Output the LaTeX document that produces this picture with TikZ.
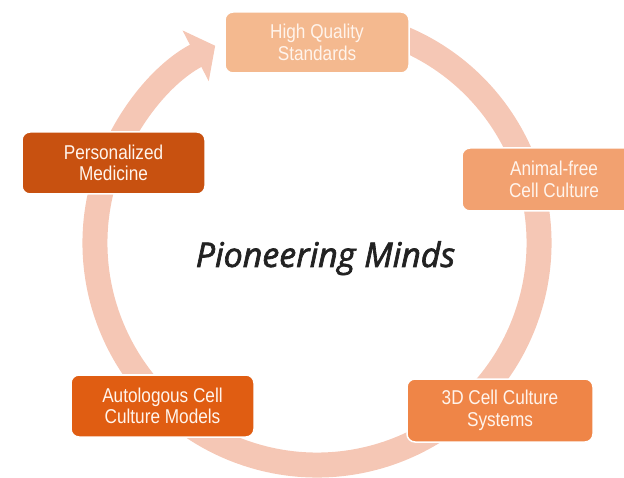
\documentclass[tikz,border=0pt]{standalone}
\usepackage{fontspec}
\usepackage{tikz}
\usetikzlibrary{arrows.meta}
\usepackage{xcolor}
\newfontfamily\boxfont{Liberation Sans}[FakeStretch=0.86]
\newfontfamily\mindfont{Open Sans}[FakeBold=2]
\definecolor{anel}{RGB}{245,199,181}
\definecolor{corA}{RGB}{244,185,143}
\definecolor{corB}{RGB}{242,161,112}
\definecolor{corC}{RGB}{239,133,71}
\definecolor{corD}{RGB}{224,93,18}
\definecolor{corE}{RGB}{200,81,16}
\definecolor{textobox}{RGB}{255,244,236}

\begin{document}
\begin{tikzpicture}[x=1pt, y=1pt,
    caixa/.style={draw=white, line width=1.5pt, rounded corners=8pt,
        minimum width=184pt, minimum height=62pt, align=center,
        text=textobox, font=\boxfont\fontsize{20}{21.5}\selectfont},
    anelseta/.style={anel, line width=25pt,
        -{Triangle[length=22pt, width=56pt]}}]
    \useasboundingbox (0,0) rectangle (624,477);
    \clip (0,0) rectangle (624,477);
    % Anel
    \coordinate (centro) at (317,234);
    \draw[anelseta] ([shift={(72:222)}]centro)
        arc[start angle=72, end angle=-242.7, radius=222];
    % Caixas
    \node[caixa, fill=corA, minimum height=61pt] (qualidade) at (317,434.5) {High Quality\\Standards};
    \node[caixa, fill=corB, minimum height=63pt] (animal) at (554,297.5) {Animal-free\\Cell Culture};
    \node[caixa, fill=corC, minimum width=186pt, minimum height=63pt] (sistemas) at (500,66.5) {3D Cell Culture\\Systems};
    \node[caixa, fill=corD, minimum width=183pt] (autologo) at (162.5,71) {Autologous Cell\\Culture Models};
    \node[caixa, fill=corE, minimum width=183pt] (medicina) at (113.5,314) {Personalized\\Medicine};
    % Texto central
    \node[anchor=base, inner sep=0pt, text={rgb,255:red,34;green,34;blue,34}, font=\mindfont\itshape\fontsize{34}{40}\selectfont] (mentes) at (325.5,210) {Pioneering Minds};
\end{tikzpicture}
\end{document}
